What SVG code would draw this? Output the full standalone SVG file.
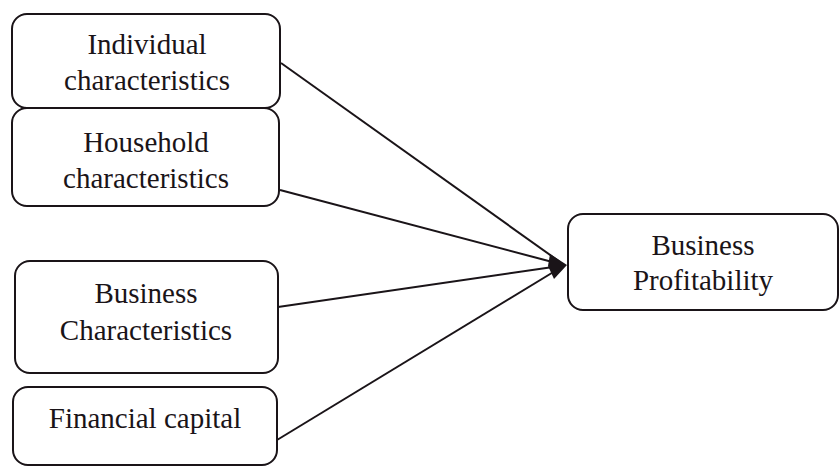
<svg xmlns="http://www.w3.org/2000/svg" width="840" height="467" viewBox="0 0 840 467">
<defs>
<style>
.box{fill:#fff;stroke:#1a1418;stroke-width:2}
.t{font-family:"Liberation Serif","Times New Roman",serif;font-size:29px;fill:#1a1418;text-anchor:middle}
.c{stroke:#1a1418;stroke-width:2;fill:none}
</style>
</defs>
<rect width="840" height="467" fill="#fff"/>
<g id="connectors">
<line class="c" x1="281" y1="63" x2="560" y2="262"/>
<line class="c" x1="280" y1="190" x2="560" y2="264"/>
<line class="c" x1="278" y1="307" x2="560" y2="266"/>
<line class="c" x1="277" y1="440" x2="560" y2="268"/>
<path d="M550,254 L567,265 L554,279 L548,266 z" fill="#1a1418"/>
</g>
<g id="n1">
<rect class="box" x="12" y="14" width="268" height="94" rx="15"/>
<text class="t" x="147" y="54">Individual</text>
<text class="t" x="147" y="90">characteristics</text>
</g>
<g id="n2">
<rect class="box" x="12" y="108" width="267" height="98" rx="15"/>
<text class="t" x="146" y="152">Household</text>
<text class="t" x="146" y="188">characteristics</text>
</g>
<g id="n3">
<rect class="box" x="15" y="261" width="263" height="112" rx="15"/>
<text class="t" x="146" y="303">Business</text>
<text class="t" x="146" y="340">Characteristics</text>
</g>
<g id="n4">
<rect class="box" x="13" y="387" width="264" height="78" rx="15"/>
<text class="t" x="145" y="428">Financial capital</text>
</g>
<g id="n5">
<rect class="box" x="568" y="214" width="270" height="96" rx="15"/>
<text class="t" x="703" y="255">Business</text>
<text class="t" x="703" y="290">Profitability</text>
</g>
</svg>
